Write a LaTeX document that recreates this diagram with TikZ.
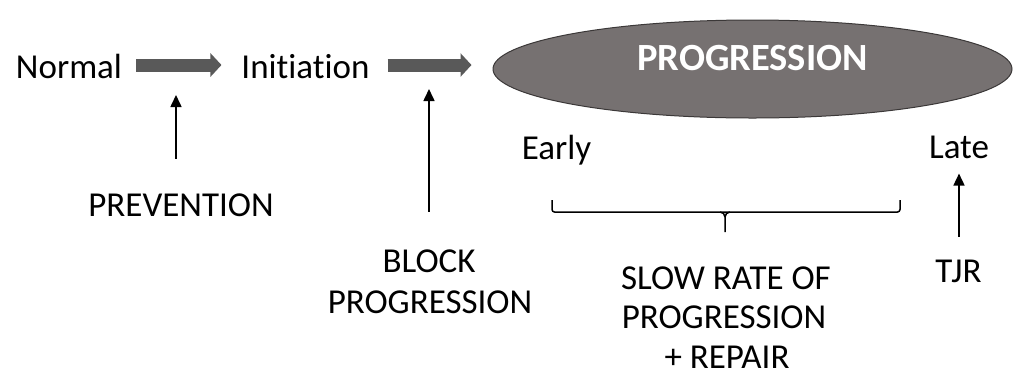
\documentclass[tikz,border=0pt]{standalone}
\usepackage{fontspec}
\setmainfont{Carlito}[Ligatures=NoCommon]
\usetikzlibrary{arrows.meta,shapes.geometric}

\definecolor{arrowgray}{HTML}{595959}
\definecolor{ovalfill}{HTML}{767171}
\definecolor{ovaledge}{HTML}{3B3838}

\tikzset{
  lbl/.style={inner sep=0pt, outer sep=0pt, text height=22.1pt, text depth=0pt,
              font=\fontsize{35}{40}\selectfont},
  blockarrow/.style={draw=arrowgray, line width=13pt,
              -{Triangle[length=11pt,width=23pt]}},
  uparrow/.style={draw=black, line width=1.6pt,
              -{Triangle[length=12pt,width=11pt]}},
  bracket/.style={draw=black, line width=1.5pt, rounded corners=2.5pt},
  oval/.style={ellipse, fill=ovalfill, draw=ovaledge, line width=1pt,
              minimum width=519pt, minimum height=98pt, inner sep=0pt,
              text=white, text height=24.3pt, text depth=21pt,
              font=\fontsize{38.5}{44}\selectfont\bfseries}
}

\begin{document}
\begin{tikzpicture}[x=1pt,y=-1pt]
\useasboundingbox (0,0) rectangle (1026,376);

% stages along the top row
\node[lbl] (normal) at (69,67.5) {Normal};
\node[lbl] (init) at (305.5,67.5) {Initiation};
\node[oval] (prog) at (752.5,69) {PROGRESSION};

\draw[blockarrow, shorten <=14pt, shorten >=20pt]
  ([yshift=2.5pt]normal.east) -- ([yshift=2.5pt]init.west);
\draw[blockarrow, shorten <=18pt, shorten >=21pt]
  ([yshift=2.5pt]init.east) -- ([yshift=2.5pt]init.east -| prog.west);

% early / late stages of progression
\node[lbl] (early) at (556.5,148.5) {Early};
\node[lbl] (late) at (959,147.5) {Late};

% interventions
\node[lbl] (prev) at (181,205) {PREVENTION};
\node[lbl] (block1) at (429,261) {BLOCK};
\node[lbl] (block2) at (430,302) {PROGRESSION};
\node[lbl] (slow1) at (726,278) {SLOW RATE OF};
\node[lbl] (slow2) at (724,317) {PROGRESSION};
\node[lbl] (slow3) at (727,357) {+ REPAIR};
\node[lbl] (tjr) at (958.5,271) {TJR};

\coordinate (tipA) at (176,95);
\coordinate (tipB) at (429,89);
\draw[uparrow, shorten <=35pt] (tipA |- prev.north) -- (tipA);
\draw[uparrow, shorten <=38pt] (tipB |- block1.north) -- (tipB);
\draw[uparrow, shorten <=23pt, shorten >=15pt]
  (late.south |- tjr.north) -- (late.south);

% bracket spanning the early-to-late range
\coordinate (brL) at (552,200);
\coordinate (brR) at (900,200);
\coordinate (brM) at (725,232);
\draw[bracket] (brL) -- (brL |- 0,212) -- (brR |- 0,212) -- (brR);
\draw[draw=black, line width=1.5pt]
  (720,212) to[out=0,in=90] (brM |- 0,217) -- (brM);
\draw[draw=black, line width=1.5pt]
  (730,212) to[out=180,in=90] (brM |- 0,217);
\end{tikzpicture}
\end{document}
